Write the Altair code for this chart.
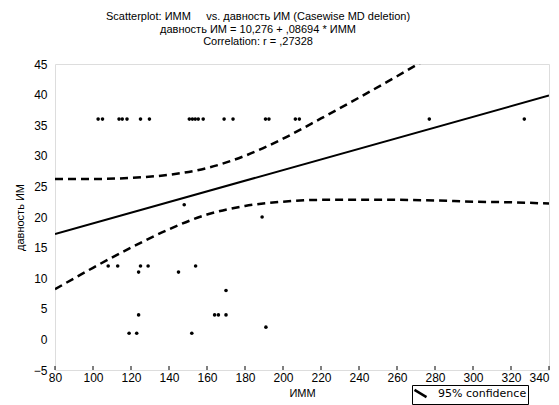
import altair as alt
import pandas as pd

# ---- data ----
imm = [102.7, 105.0, 113.7, 115.4, 117.9, 125.0, 129.7, 150.7, 152.3, 153.8,
       155.4, 158.0, 169.0, 173.7, 190.8, 192.6, 206.5, 208.6, 277.0, 327.0,
       148.0, 189.0, 108.0, 113.0, 125.0, 129.0, 124.0, 145.0, 154.0, 170.0,
       124.0, 164.0, 166.0, 170.0, 119.0, 123.0, 152.0, 191.0]
davnost = [36, 36, 36, 36, 36, 36, 36, 36, 36, 36,
           36, 36, 36, 36, 36, 36, 36, 36, 36, 36,
           22, 20, 12, 12, 12, 12, 11, 11, 12, 8,
           4, 4, 4, 4, 1, 1, 1, 2]

reg_x = [80, 340]
reg_y = [17.23, 39.84]

band_x = [80, 100, 120, 140, 160, 180, 200, 220, 240, 260, 280, 300, 320, 340]
band_upper = [26.2, 26.2, 26.4, 26.9, 28.0, 30.0, 32.8, 36.1, 39.5, 43.0, 46.6, 50.2, 53.8, 57.4]
band_lower = [8.2, 11.7, 15.0, 18.0, 20.4, 21.8, 22.5, 22.8, 22.8, 22.8, 22.7, 22.5, 22.4, 22.2]

x_ticks = [80, 100, 120, 140, 160, 180, 200, 220, 240, 260, 280, 300, 320, 340]
y_ticks = [-5, 0, 5, 10, 15, 20, 25, 30, 35, 40, 45]

NB = "\u00a0"
title_lines = [
    "Scatterplot: ИММ" + NB * 5 + "vs. давность ИМ (Casewise MD deletion)",
    "давность ИМ = 10,276 + ,08694 * ИММ",
    "Correlation: r = ,27328",
]
legend_label = "95% confidence"

# ---- tables ----
df_pts = pd.DataFrame({"imm": imm, "davnost": davnost})
df_reg = pd.DataFrame({"imm": reg_x, "davnost": reg_y})
df_band = pd.concat([
    pd.DataFrame({"imm": band_x, "davnost": band_upper, "side": "upper"}),
    pd.DataFrame({"imm": band_x, "davnost": band_lower, "side": "lower"}),
])
df_band["legend"] = legend_label
df_ticks = pd.DataFrame({"imm": x_ticks})

FONT = "Liberation Sans"
W, H = 494, 306

xscale = alt.Scale(domain=[80, 340], nice=False, zero=False)
yscale = alt.Scale(domain=[-5, 45], nice=False, zero=False)

xaxis = alt.Axis(title="ИММ", values=x_ticks, grid=False, domain=False, ticks=False,
                 labelFont=FONT, labelFontSize=12, labelColor="black", labelPadding=2,
                 labelFlush=False, labelOverlap=False, labelBound=False,
                 labelAlign={"condition": {"test": "datum.value >= 340", "value": "right"},
                             "value": "center"},
                 titleFont=FONT, titleFontSize=11, titleFontWeight="normal",
                 titleColor="black", titlePadding=4)
yaxis = alt.Axis(title="давность ИМ", values=y_ticks, grid=False, domain=False, ticks=False,
                 labelFont=FONT, labelFontSize=12, labelColor="black", labelPadding=8,
                 labelFlush=False, labelOverlap=False, labelBound=False,
                 titleFont=FONT, titleFontSize=11, titleFontWeight="normal",
                 titleColor="black", titlePadding=8)

X = alt.X("imm:Q", scale=xscale, axis=xaxis)
Y = alt.Y("davnost:Q", scale=yscale, axis=yaxis)

pts = alt.Chart(df_pts).mark_circle(size=13, color="black", opacity=1).encode(x=X, y=Y)

reg = alt.Chart(df_reg).mark_line(color="black", strokeWidth=2, clip=True).encode(x=X, y=Y)

band = alt.Chart(df_band).mark_line(strokeDash=[8, 5], strokeWidth=2.5, clip=True,
                                    interpolate="monotone").encode(
    x=X, y=Y,
    detail="side:N",
    color=alt.Color("legend:N", scale=alt.Scale(range=["black"]),
                    legend=alt.Legend(title=None, orient="none", legendX=357, legendY=321,
                                      symbolType="M-1,-0.6L1,0.6", symbolSize=144,
                                      symbolStrokeWidth=2.5, strokeColor="black",
                                      fillColor="white", padding=1, cornerRadius=0,
                                      labelFont="DejaVu Sans", labelFontSize=11,
                                      labelColor="black", labelOffset=10)),
)

ticks = alt.Chart(df_ticks).mark_rule(color="black", strokeWidth=1).encode(
    x=X,
    y=alt.value(H),
    y2=alt.value(H - 4),
)

chart = alt.layer(pts, band, reg, ticks).properties(
    width=W, height=H,
    title=alt.TitleParams(text=title_lines, font=FONT, fontSize=11, fontWeight="normal",
                          color="black", anchor="middle", dx=-44, offset=11, lineHeight=12.5),
    autosize=alt.AutoSizeParams(type="none"),
    padding={"left": 47, "top": 56, "right": 2, "bottom": 41},
).configure_view(stroke="black", strokeWidth=2).configure(background="white")

chart.save("out.html", embed_options={"renderer": "svg", "actions": False})
